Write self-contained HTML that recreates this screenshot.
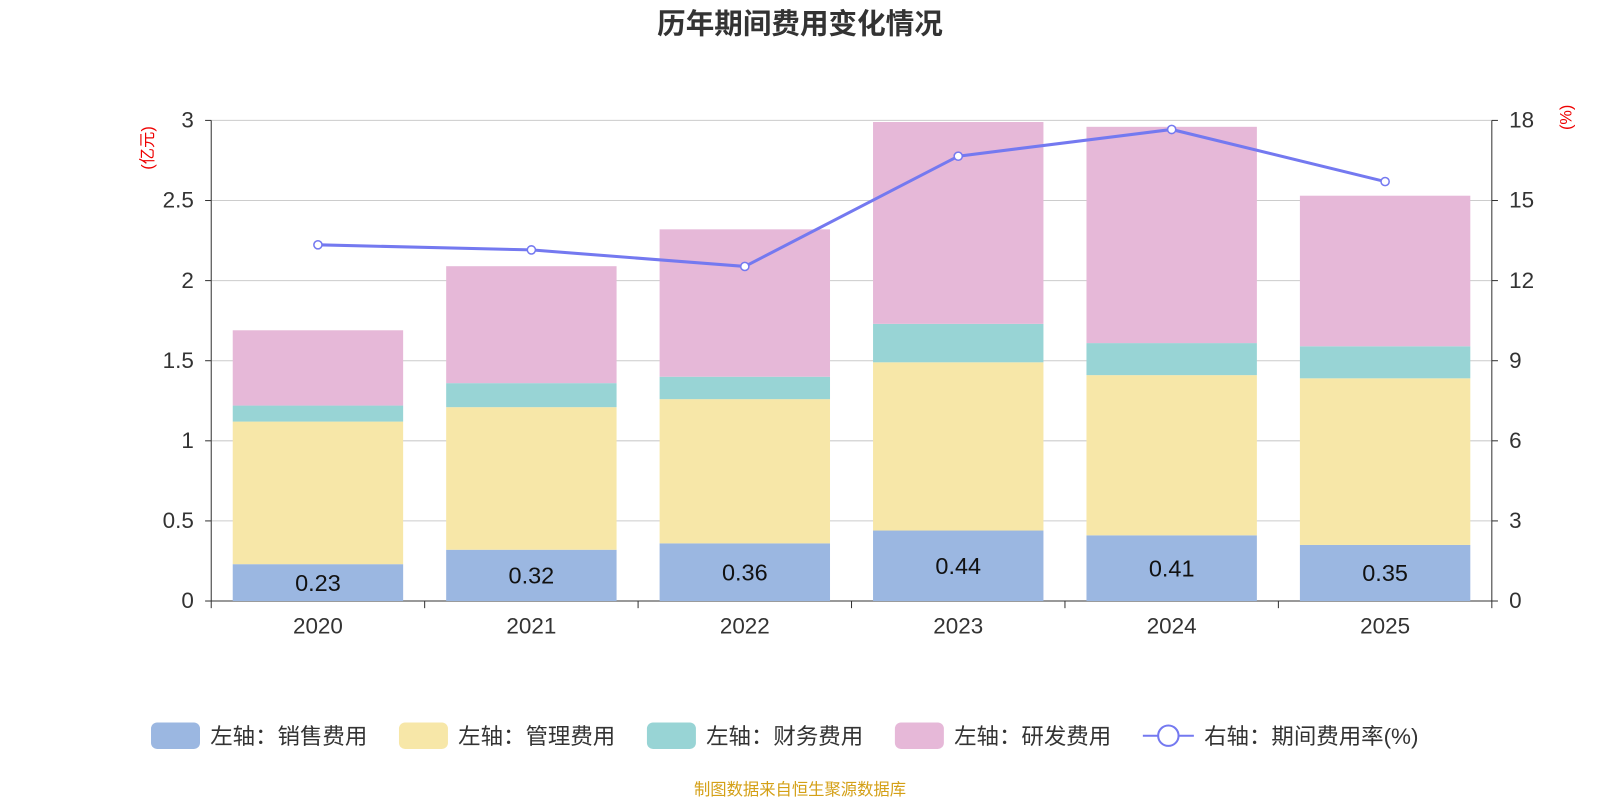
<!DOCTYPE html>
<html><head><meta charset="utf-8"><style>
body{margin:0;background:#fff;width:1600px;height:800px;overflow:hidden}
svg text{font-family:"Liberation Sans","Noto Sans CJK SC",sans-serif}
</style></head><body>
<svg id="c" width="1600" height="800">
<g transform="scale(1.0204)">
<text x="784" y="33" text-anchor="middle" font-size="28" font-weight="bold" fill="#333">历年期间费用变化情况</text>
<text transform="translate(150,145) rotate(-90)" text-anchor="middle" font-size="16" fill="#e00">(亿元)</text>
<text transform="translate(1540,115) rotate(-90)" text-anchor="middle" font-size="16" fill="#e00">(%)</text>
<g id="grid"></g><g id="bars"></g><g id="axes"></g><g id="line"></g>
<g id="legend"></g>
<text x="784" y="779" text-anchor="middle" font-size="16" fill="#d4a017">制图数据来自恒生聚源数据库</text>
</g>
</svg>
<script>
const years=["2020","2021","2022","2023","2024","2025"];
const sales=[0.23,0.32,0.36,0.44,0.41,0.35];
const mgmt=[0.89,0.89,0.90,1.05,1.00,1.04];
const fin=[0.10,0.15,0.14,0.24,0.20,0.20];
const rnd=[0.47,0.73,0.92,1.26,1.35,0.94];
const rate=[13.34,13.15,12.53,16.66,17.66,15.71];
const leftTicks=["0","0.5","1","1.5","2","2.5","3"];
const rightTicks=["0","3","6","9","12","15","18"];
const NS="http://www.w3.org/2000/svg";
const X0=207,X1=1462,Y0=589,Y1=118;
const band=(X1-X0)/years.length;
const yL=v=>Y0-(v/3)*(Y0-Y1);
const yR=v=>Y0-(v/18)*(Y0-Y1);
const xc=i=>X0+band*(i+0.5);
function mk(t,a,p){const e=document.createElementNS(NS,t);for(const k in a)e.setAttribute(k,a[k]);document.getElementById(p).appendChild(e);return e;}
leftTicks.forEach((t,i)=>{const v=+t;const y=yL(v);
 const g=mk('line',{x1:X0,x2:X1,y1:y,y2:y,stroke:i?'#ccc':'#333','stroke-width':1},'grid');
 
 
 const tx=mk('text',{x:X0-17,y:y+7,'text-anchor':'end','font-size':22,fill:'#333'},'axes');tx.textContent=t;
 
 
 const tk=mk('line',{x1:X0-6,x2:X0,y1:y,y2:y,stroke:'#333'},'axes');
 
 });
rightTicks.forEach(t=>{const y=yR(+t);
 const tx=mk('text',{x:X1+17,y:y+7,'font-size':22,fill:'#333'},'axes');tx.textContent=t;
 
 
 const tk=mk('line',{x1:X1,x2:X1+6,y1:y,y2:y,stroke:'#333'},'axes');
 
 });
[X0,X1].forEach(x=>{const l=mk('line',{x1:x,x2:x,y1:Y1,y2:Y0,stroke:'#333'},'axes');
 
 });
for(let i=0;i<=years.length;i++){const x=X0+band*i;const l=mk('line',{x1:x,x2:x,y1:Y0,y2:Y0+7,stroke:'#333'},'axes');
 
 }
const series=[[sales,'#9bb7e1','sales'],[mgmt,'#f7e7a8','mgmt'],[fin,'#98d4d5','finance'],[rnd,'#e6b8d8','rnd']];
const bw=167;
years.forEach((yr,i)=>{let base=0;
 series.forEach(([arr,col,nm])=>{const top=base+arr[i];
  const r=mk('rect',{x:xc(i)-bw/2,y:yL(top),width:bw,height:yL(base)-yL(top),fill:col},'bars');
  
  
  base=top;});
 const lb=mk('text',{x:xc(i),y:(yL(0)+yL(sales[i]))/2+8,'text-anchor':'middle','font-size':23,fill:'#111'},'bars');lb.textContent=sales[i].toFixed(2);
 
 
 const xl=mk('text',{x:xc(i),y:621,'text-anchor':'middle','font-size':22,fill:'#333'},'axes');xl.textContent=yr;
 
 });
const pl=mk('polyline',{points:rate.map((v,i)=>xc(i)+','+yR(v)).join(' '),fill:'none',stroke:'#7479f0','stroke-width':3},'line');


rate.forEach((v,i)=>{const c=mk('circle',{cx:xc(i),cy:yR(v),r:4,fill:'#fff',stroke:'#7479f0','stroke-width':1.5},'line');
 
 });
const leg=[['左轴：销售费用','#9bb7e1',148],['左轴：管理费用','#f7e7a8',391],['左轴：财务费用','#98d4d5',634],['左轴：研发费用','#e6b8d8',877]];
leg.forEach(([t,c,x])=>{const r=mk('rect',{x:x,y:708,width:48,height:26,rx:6,fill:c},'legend');
 
 
 const tx=mk('text',{x:x+58,y:729,'font-size':22,fill:'#333'},'legend');tx.textContent=t;
 
 });
const ll=mk('line',{x1:1120,x2:1170,y1:721,y2:721,stroke:'#7479f0','stroke-width':2},'legend');


const lc=mk('circle',{cx:1145,cy:721,r:10,fill:'#fff',stroke:'#7479f0','stroke-width':2},'legend');


const lt=mk('text',{x:1180,y:729,'font-size':22,fill:'#333'},'legend');lt.textContent='右轴：期间费用率(%)';


</script>
</body></html>
